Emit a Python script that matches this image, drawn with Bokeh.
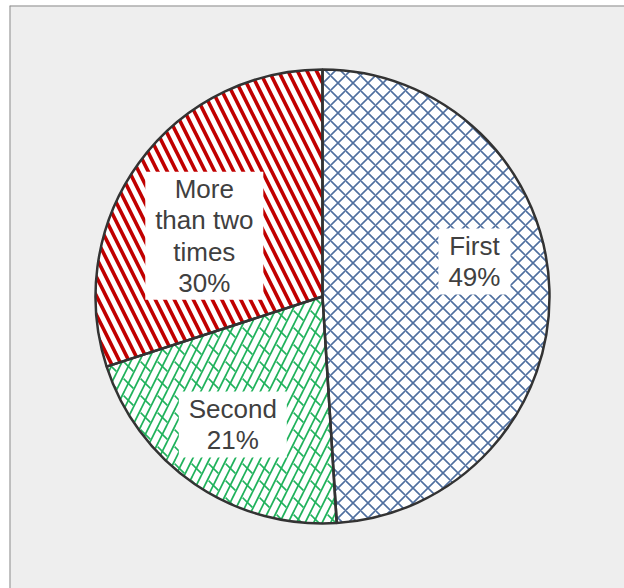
import numpy as np
from bokeh.plotting import figure
from bokeh.models import Range1d, Span, ColumnDataSource
from bokeh.core.properties import value
from bokeh.embed import file_html
from bokeh.resources import INLINE

# ---- data ----
categories = ["First", "Second", "More than two times"]
values = [49, 21, 30]
label_lines = [["First"], ["Second"], ["More", "than two", "times"]]

# ---- styles / layout ----
hatch_patterns = ["diagonal_cross", "right_diagonal_line", "left_diagonal_line"]
hatch_colors = ["#4f6f9f", "#20b25c", "#c00000"]
hatch_scales = [15, 17, 19]
hatch_weights = [1.6, 1.7, 3.6]
W, H = 624, 588
frame_left, frame_top = 9, 5
cx, cy, R = 322, 292, 227          # pie centre (plot units = px) and radius
label_r = 156
label_nudge = [(-4, 30), (-2, 1), (8, -31)]
box_w = [72, 108, 118]
box_line_h = 31
box_pad = 4
FONT = "Liberation Sans"

vals = np.array(values, dtype=float)
frac = vals / vals.sum()
cum = np.concatenate([[0.0], np.cumsum(frac)])
start = np.pi / 2 - cum[:-1] * 2 * np.pi
end = np.pi / 2 - cum[1:] * 2 * np.pi
mid = (start + end) / 2

texts = []
for lines, v in zip(label_lines, values):
    texts.append("\n".join(lines + [f"{v}%"]))
lx = [cx + label_r * np.cos(a) + n[0] for a, n in zip(mid, label_nudge)]
ly = [cy + label_r * np.sin(a) + n[1] for a, n in zip(mid, label_nudge)]
bh = [(len(t.split("\n"))) * box_line_h + box_pad for t in texts]

src = ColumnDataSource(dict(
    cat=categories, start=start, end=end,
    hp=hatch_patterns, hc=hatch_colors, hs=hatch_scales, hw=hatch_weights,
))
lsrc = ColumnDataSource(dict(x=lx, y=ly, text=texts, w=box_w, h=bh))

p = figure(width=W, height=H, output_backend="svg", toolbar_location=None,
           x_range=Range1d(frame_left, W), y_range=Range1d(0, H - frame_top),
           x_axis_location=None, y_axis_location=None,
           min_border=0, min_border_left=frame_left, min_border_top=frame_top,
           min_border_right=0, min_border_bottom=0,
           background_fill_color="#eeeeee", border_fill_color="white",
           outline_line_color=None)
p.grid.visible = False

p.wedge(x=cx, y=cy, radius=R, start_angle="start", end_angle="end",
        direction="clock", source=src, fill_color="white",
        hatch_pattern="hp", hatch_color="hc", hatch_scale="hs",
        hatch_weight="hw", line_color=None)

# brick cross-pieces for the "Second" slice
p.wedge(x=cx, y=cy, radius=R, start_angle=start[1], end_angle=end[1],
        direction="clock", fill_color=None, hatch_pattern="left_diagonal_dash",
        hatch_color=hatch_colors[1], hatch_scale=17, hatch_weight=1.7,
        line_color=None)

p.wedge(x=cx, y=cy, radius=R, start_angle="start", end_angle="end",
        direction="clock", source=src, fill_color=None,
        line_color="#333333", line_width=2.5)

p.rect(x="x", y="y", width="w", height="h", source=lsrc,
       fill_color="white", line_color=None)
p.text(x="x", y="y", text="text", source=lsrc, text_align="center",
       text_baseline="middle", text_font=value(FONT), text_font_size="26px",
       text_color="#404040", text_line_height=1.05)

p.add_layout(Span(location=H - frame_top, dimension="width",
                  line_color="#8c8c8c", line_width=2))
p.add_layout(Span(location=frame_left, dimension="height",
                  line_color="#8c8c8c", line_width=2))

open("out.html", "w").write(file_html(p, INLINE))
